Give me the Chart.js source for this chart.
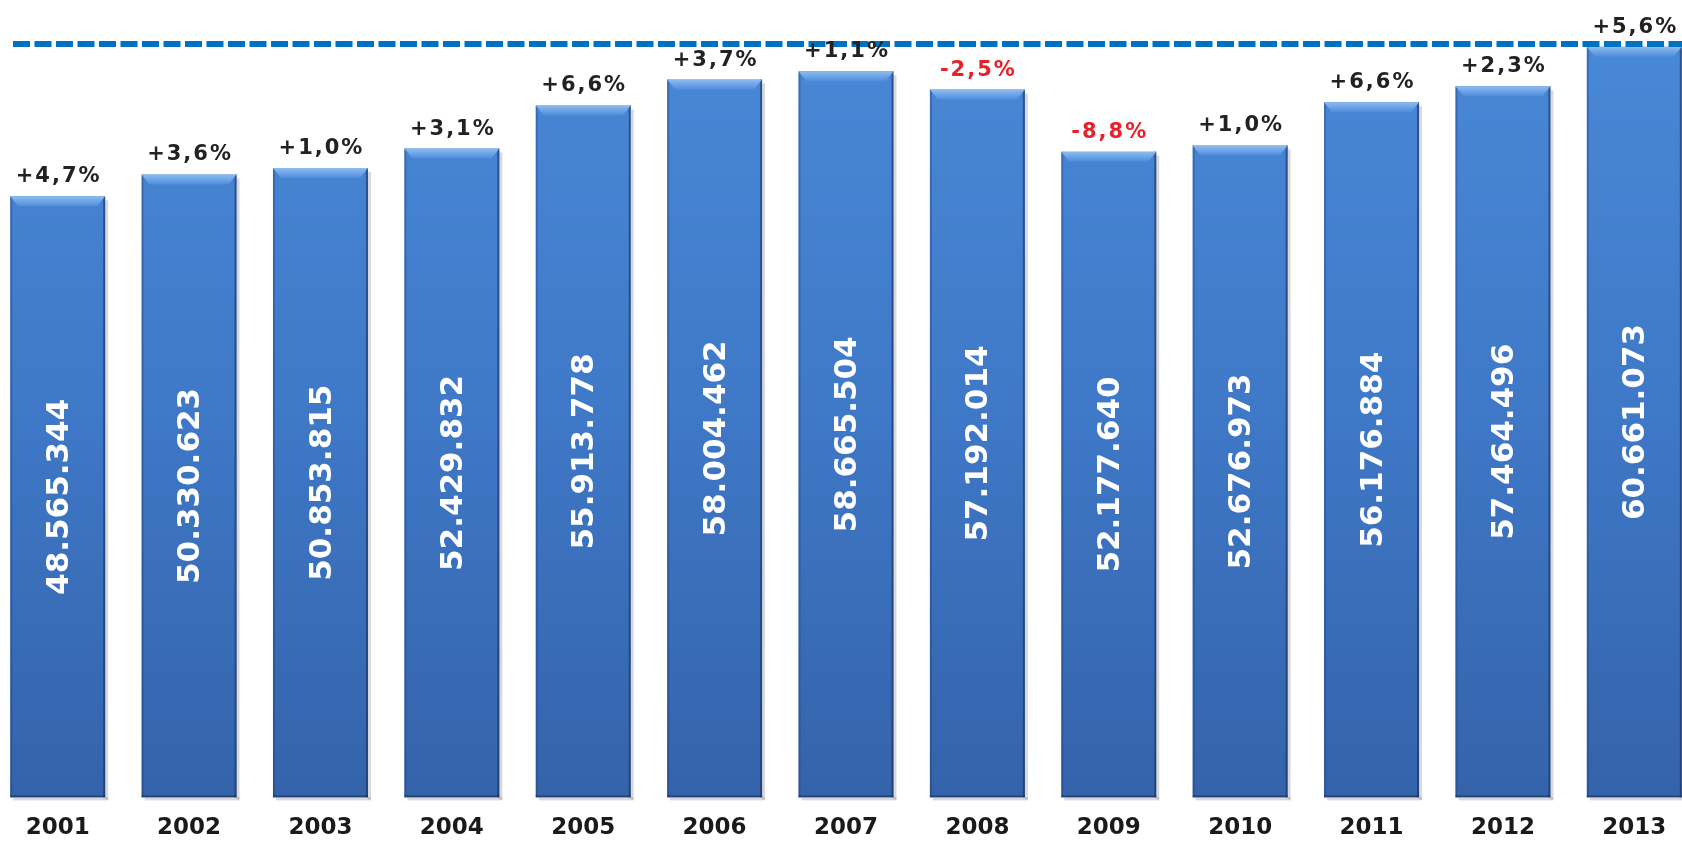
<!DOCTYPE html>
<html>
<head>
<meta charset="utf-8">
<script src="https://cdn.jsdelivr.net/npm/chart.js@4.4.1/dist/chart.umd.min.js"></script>
<style>
  body { margin: 0; background: #fff; overflow: hidden; }
  #wrap { position: absolute; left: -8px; top: 0; width: 1708px; height: 859px; }
</style>
</head>
<body>
<div id="wrap"><canvas id="barChart"></canvas></div>
<script>
// data
var years = ['2001', '2002', '2003', '2004', '2005', '2006', '2007', '2008', '2009', '2010', '2011', '2012', '2013'];
var values = [48565344, 50330623, 50853815, 52429832, 55913778, 58004462, 58665504, 57192014, 52177640, 52676973, 56176884, 57464496, 60661073];
var changes = [4.7, 3.6, 1.0, 3.1, 6.6, 3.7, 1.1, -2.5, -8.8, 1.0, 6.6, 2.3, 5.6];
var dashLevel = 60870000;

function fmtValue(v) {
    return String(v).replace(/\B(?=(\d{3})+(?!\d))/g, '.');
}
function fmtChange(c) {
    return (c < 0 ? '-' : '+') + Math.abs(c).toFixed(1).replace('.', ',') + '%';
}

var ctx = document.getElementById('barChart').getContext('2d');

// bar fill: light blue on top, darker towards the base
function barFill(context) {
    var area = context.chart.chartArea;
    if (!area) return '#3f7acb';
    var g = context.chart.ctx.createLinearGradient(0, area.top, 0, area.bottom);
    g.addColorStop(0, '#4a8ad8');
    g.addColorStop(0.5, '#3f79c8');
    g.addColorStop(1, '#3463aa');
    return g;
}

// bevel, labels and dashed line
var decorPlugin = {
    id: 'decor',
    afterDatasetsDraw: function(chart) {
        var c = chart.ctx;
        var meta = chart.getDatasetMeta(0);
        var yScale = chart.scales.y;
        var area = chart.chartArea;

        meta.data.forEach(function(bar, i) {
            var w = bar.width, l = bar.x - w / 2, r = bar.x + w / 2, t = bar.y, b = bar.base;
            c.save();
            // right/bottom shadow
            c.fillStyle = 'rgba(0,0,0,0.15)';
            c.fillRect(r, t + 4, 3, b - t - 2);
            c.fillRect(l + 3, b, w, 3);
            // side edges
            c.fillStyle = 'rgba(20,50,110,0.3)';
            c.fillRect(l, t, 2, b - t);
            c.fillStyle = 'rgba(20,40,90,0.55)';
            c.fillRect(r - 2, t, 2, b - t);
            c.fillRect(l, b - 2, w, 2);
            // top bevel
            var bg = c.createLinearGradient(0, t, 0, t + 10);
            bg.addColorStop(0, '#8dbcf0');
            bg.addColorStop(1, '#4e8ddb');
            c.fillStyle = bg;
            c.beginPath();
            c.moveTo(l, t);
            c.lineTo(r, t);
            c.lineTo(r - 8, t + 10);
            c.lineTo(l + 8, t + 10);
            c.closePath();
            c.fill();
            // value inside the bar
            c.translate(bar.x, (t + b) / 2);
            c.rotate(-Math.PI / 2);
            c.fillStyle = '#ffffff';
            c.font = 'bold 31px "DejaVu Sans"';
            c.textAlign = 'center';
            c.textBaseline = 'middle';
            c.fillText(fmtValue(values[i]), 0, 2);
            c.restore();
        });

        // dashed line
        var ly = yScale.getPixelForValue(dashLevel);
        c.save();
        c.strokeStyle = '#0070c0';
        c.lineWidth = 6;
        c.setLineDash([17, 4.5]);
        c.beginPath();
        c.moveTo(area.left + 21, ly);
        c.lineTo(area.right, ly);
        c.stroke();
        c.restore();

        // percentage labels
        meta.data.forEach(function(bar, i) {
            c.save();
            c.font = 'bold 21px "DejaVu Sans"';
            c.letterSpacing = '2px';
            c.textAlign = 'center';
            c.textBaseline = 'alphabetic';
            c.fillStyle = changes[i] < 0 ? '#e8202a' : '#222222';
            c.fillText(fmtChange(changes[i]), bar.x + 1, bar.y - 14);
            c.restore();
        });
    }
};

var chartData = {
    labels: years,
    datasets: [{
        label: 'Valori',
        data: values,
        backgroundColor: barFill,
        borderWidth: 0,
        categoryPercentage: 1,
        barPercentage: 0.723
    }]
};

var chartOptions = {
    responsive: true,
    maintainAspectRatio: false,
    animation: false,
    layout: { padding: 0 },
    plugins: {
        legend: { display: false },
        tooltip: { enabled: false }
    },
    scales: {
        x: {
            grid: { display: false, drawTicks: false },
            border: { display: false },
            ticks: {
                padding: 17,
                color: '#1a1a1a',
                font: { family: '"DejaVu Sans"', size: 23, weight: 'bold' }
            }
        },
        y: {
            display: false,
            min: 0,
            max: 64430000
        }
    }
};

var barChart = new Chart(ctx, {
    type: 'bar',
    data: chartData,
    options: chartOptions,
    plugins: [decorPlugin]
});
</script>
</body>
</html>
